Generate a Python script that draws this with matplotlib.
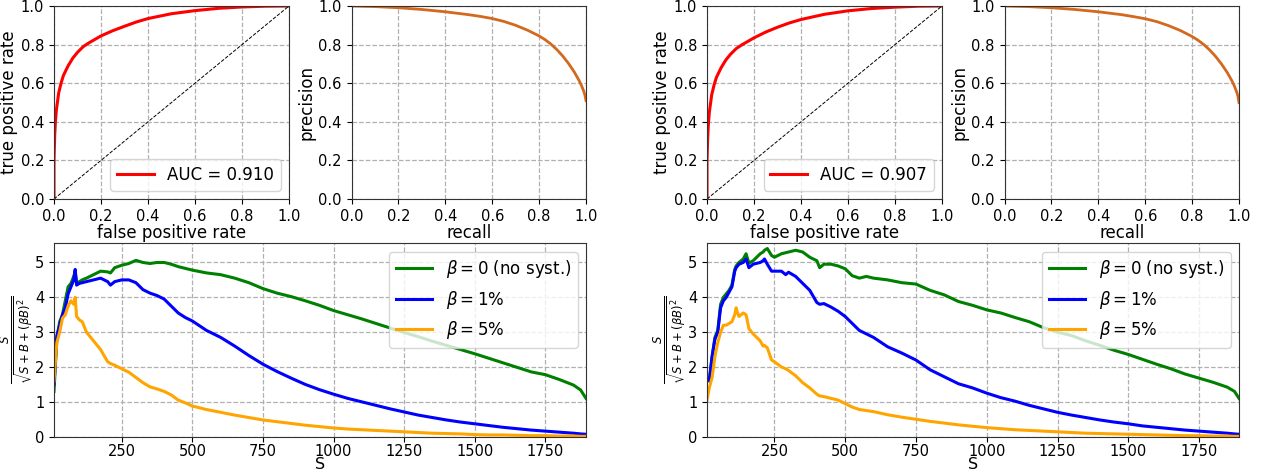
import matplotlib
matplotlib.use("Agg")
import matplotlib.pyplot as plt
import numpy as np

W, H = 1265, 474

# ---- ROC curves ----
ROC_FPR = [0.0, 0.0, 0.003, 0.006, 0.01, 0.02, 0.03, 0.04, 0.06, 0.08, 0.1, 0.125, 0.15, 0.2,
           0.25, 0.3, 0.35, 0.4, 0.5, 0.6, 0.7, 0.8, 0.9, 1.0]
ROC_TPR_A = [0.0, 0.2, 0.33, 0.40, 0.46, 0.55, 0.60, 0.64, 0.69, 0.73, 0.76, 0.79, 0.81, 0.845,
             0.872, 0.895, 0.917, 0.935, 0.96, 0.976, 0.988, 0.995, 0.999, 1.0]
ROC_TPR_B = [0.0, 0.2, 0.32, 0.39, 0.45, 0.54, 0.59, 0.63, 0.68, 0.72, 0.75, 0.78, 0.80, 0.835,
             0.865, 0.89, 0.912, 0.93, 0.957, 0.975, 0.987, 0.994, 0.999, 1.0]
AUC_A = 0.910
AUC_B = 0.907

# ---- precision-recall curves ----
PR_RECALL = [0.0, 0.1, 0.2, 0.3, 0.4, 0.5, 0.55, 0.6, 0.65, 0.7, 0.75, 0.8, 0.825, 0.85, 0.875,
             0.9, 0.925, 0.95, 0.97, 0.98, 0.99, 0.995, 1.0]
PR_PREC_A = [1.0, 0.997, 0.991, 0.982, 0.97, 0.955, 0.946, 0.935, 0.92, 0.90, 0.875, 0.845,
             0.826, 0.803, 0.775, 0.742, 0.703, 0.658, 0.615, 0.59, 0.56, 0.54, 0.51]
PR_PREC_B = [1.0, 0.997, 0.991, 0.982, 0.97, 0.955, 0.945, 0.934, 0.919, 0.898, 0.873, 0.842,
             0.823, 0.80, 0.772, 0.739, 0.70, 0.655, 0.612, 0.586, 0.555, 0.535, 0.50]

# ---- significance vs S, left panel ----
S_A = [10, 20, 30, 40, 50, 60, 70, 80, 85, 90, 100, 110, 125, 150, 175, 200, 210, 225, 250,
       275, 300, 325, 350, 375, 400, 425, 450, 475, 500, 550, 600, 650, 700, 750, 800, 850,
       900, 950, 1000, 1050, 1100, 1150, 1200, 1250, 1300, 1350, 1400, 1450, 1500, 1550,
       1600, 1650, 1700, 1750, 1800, 1850, 1875, 1894]
SIG0_A = [1.3, 2.8, 3.3, 3.5, 3.9, 4.3, 4.4, 4.6, 4.75, 4.4, 4.45, 4.5, 4.55, 4.65, 4.75, 4.73,
          4.7, 4.85, 4.92, 4.97, 5.06, 5.0, 4.97, 5.0, 5.0, 4.95, 4.88, 4.83, 4.78, 4.7, 4.65,
          4.55, 4.42, 4.25, 4.12, 4.02, 3.9, 3.77, 3.62, 3.5, 3.38, 3.25, 3.12, 2.99, 2.87,
          2.74, 2.62, 2.5, 2.38, 2.25, 2.12, 1.99, 1.86, 1.78, 1.64, 1.48, 1.34, 1.1]
SIG1_A = [1.5, 2.9, 3.2, 3.5, 3.7, 4.1, 4.3, 4.5, 4.8, 4.35, 4.4, 4.42, 4.45, 4.5, 4.55, 4.45,
          4.35, 4.45, 4.5, 4.5, 4.42, 4.22, 4.12, 4.05, 3.95, 3.75, 3.55, 3.42, 3.32, 3.05,
          2.85, 2.6, 2.33, 2.08, 1.87, 1.68, 1.5, 1.35, 1.22, 1.1, 1.0, 0.9, 0.8, 0.71, 0.62,
          0.55, 0.48, 0.42, 0.37, 0.32, 0.27, 0.23, 0.19, 0.16, 0.13, 0.1, 0.08, 0.07]
SIG5_A = [1.6, 2.7, 3.0, 3.4, 3.5, 3.75, 3.9, 3.8, 4.0, 3.45, 3.35, 3.3, 3.0, 2.75, 2.5, 2.15,
          2.1, 2.05, 1.95, 1.85, 1.7, 1.55, 1.43, 1.37, 1.3, 1.2, 1.05, 0.97, 0.88, 0.78, 0.7,
          0.62, 0.55, 0.48, 0.43, 0.38, 0.33, 0.29, 0.25, 0.22, 0.2, 0.18, 0.16, 0.14, 0.12,
          0.1, 0.09, 0.08, 0.06, 0.05, 0.05, 0.04, 0.03, 0.03, 0.02, 0.02, 0.01, 0.01]

# ---- significance vs S, right panel ----
S_B = [12, 20, 30, 40, 50, 60, 70, 80, 90, 100, 110, 115, 120, 125, 140, 150, 160, 175, 200,
       210, 215, 225, 240, 250, 275, 290, 300, 325, 350, 375, 400, 410, 425, 450, 475, 500,
       525, 550, 575, 600, 650, 700, 750, 800, 850, 900, 950, 1000, 1050, 1100, 1150, 1200,
       1250, 1300, 1350, 1400, 1450, 1500, 1550, 1600, 1650, 1700, 1750, 1800, 1850, 1875,
       1891]
SIG0_B = [1.65, 1.6, 2.3, 2.85, 3.05, 3.8, 4.0, 4.1, 4.2, 4.35, 4.8, 4.9, 4.95, 5.0, 5.1, 5.25,
          4.98, 5.05, 5.25, 5.3, 5.35, 5.4, 5.2, 5.15, 5.25, 5.28, 5.3, 5.35, 5.3, 5.15, 5.05,
          4.85, 4.95, 4.95, 4.9, 4.82, 4.62, 4.55, 4.6, 4.55, 4.5, 4.42, 4.38, 4.2, 4.07,
          3.88, 3.77, 3.64, 3.55, 3.42, 3.3, 3.13, 3.0, 2.9, 2.75, 2.62, 2.48, 2.36, 2.22,
          2.08, 1.95, 1.8, 1.68, 1.56, 1.42, 1.3, 1.1]
SIG1_B = [1.65, 1.6, 2.3, 2.8, 3.0, 3.7, 3.9, 4.0, 4.15, 4.3, 4.75, 4.85, 4.9, 4.95, 5.0, 5.1,
          4.85, 4.95, 5.0, 5.05, 5.1, 4.95, 4.75, 4.75, 4.75, 4.65, 4.72, 4.6, 4.4, 4.2, 3.85,
          3.8, 3.82, 3.72, 3.6, 3.45, 3.25, 3.05, 2.95, 2.85, 2.58, 2.4, 2.2, 1.92, 1.72,
          1.52, 1.4, 1.25, 1.12, 1.02, 0.9, 0.8, 0.7, 0.62, 0.55, 0.48, 0.42, 0.37, 0.31,
          0.27, 0.23, 0.19, 0.16, 0.13, 0.1, 0.08, 0.07]
SIG5_B = [1.05, 1.4, 1.7, 2.3, 2.7, 3.0, 3.2, 3.2, 3.25, 3.3, 3.5, 3.7, 3.55, 3.45, 3.55, 3.5,
          3.1, 2.95, 2.75, 2.6, 2.62, 2.55, 2.2, 2.15, 2.0, 1.95, 1.9, 1.75, 1.55, 1.4, 1.22,
          1.17, 1.15, 1.1, 1.05, 0.95, 0.85, 0.78, 0.75, 0.72, 0.63, 0.56, 0.5, 0.44, 0.39,
          0.34, 0.3, 0.26, 0.23, 0.2, 0.18, 0.16, 0.14, 0.12, 0.1, 0.09, 0.08, 0.07, 0.06,
          0.05, 0.04, 0.03, 0.03, 0.02, 0.02, 0.01, 0.01]

SIG_LABELS = [r"$\beta = 0$ (no syst.)", r"$\beta = 1\%$", r"$\beta = 5\%$"]
SIG_COLORS = ["green", "blue", "orange"]
S_TICKS = [250, 500, 750, 1000, 1250, 1500, 1750]

TICK_FS = 10.5
LABEL_FS = 12
LEGEND_FS = 12


def px_axes(fig, x0, x1, y0, y1):
    # pixel box (top-left origin) -> figure fraction axes
    return fig.add_axes([x0 / W, (H - y1) / H, (x1 - x0) / W, (y1 - y0) / H])


def style(ax):
    ax.grid(True, linestyle="--", color="#b0b0b0", linewidth=0.9)
    ax.set_axisbelow(True)
    ax.tick_params(labelsize=TICK_FS)
    for sp in ax.spines.values():
        sp.set_color("#333333")


def draw_group(fig, xoff, tpr, auc, prec, s, sigs):
    ax = px_axes(fig, 54 + xoff, 289 + xoff, 6, 199)
    ax.plot(ROC_FPR, tpr, color="red", linewidth=2.2, label=f"AUC = {auc:.3f}")
    ax.plot([0, 1], [0, 1], "k--", linewidth=0.7)
    ax.set_xlim(0, 1)
    ax.set_ylim(0, 1)
    ax.set_xlabel("false positive rate", fontsize=LABEL_FS, labelpad=0)
    ax.set_ylabel("true positive rate", fontsize=LABEL_FS, labelpad=2)
    ax.legend(loc="lower right", fontsize=LEGEND_FS, handlelength=2.2)
    style(ax)

    ax = px_axes(fig, 351.5 + xoff, 586 + xoff, 6, 199)
    ax.plot(PR_RECALL, prec, color="chocolate", linewidth=2.0)
    ax.set_xlim(0, 1)
    ax.set_ylim(0, 1)
    ax.set_xlabel("recall", fontsize=LABEL_FS, labelpad=0)
    ax.set_ylabel("precision", fontsize=LABEL_FS, labelpad=2)
    style(ax)

    ax = px_axes(fig, 54 + xoff, 586 + xoff, 243.3, 436.7)
    for sig, lab, col in zip(sigs, SIG_LABELS, SIG_COLORS):
        ax.plot(s, sig, color=col, linewidth=2.2, label=lab)
    ax.set_xlim(s[0], s[-1])
    ax.set_ylim(0, 5.55)
    ax.set_xticks(S_TICKS)
    ax.set_yticks([0, 1, 2, 3, 4, 5])
    ax.set_ylabel(r"$\frac{S}{\sqrt{S+B+(\beta B)^2}}$", fontsize=LABEL_FS, labelpad=0)
    ax.legend(loc="upper right", fontsize=LEGEND_FS, handlelength=2.2)
    style(ax)
    ax.tick_params(axis="x", pad=1.5)
    ax.set_xlabel("S", fontsize=11.5, labelpad=-1.5)


fig = plt.figure(figsize=(W / 100, H / 100), dpi=100)
draw_group(fig, 0, ROC_TPR_A, AUC_A, PR_PREC_A, S_A, [SIG0_A, SIG1_A, SIG5_A])
draw_group(fig, 653, ROC_TPR_B, AUC_B, PR_PREC_B, S_B, [SIG0_B, SIG1_B, SIG5_B])
fig.savefig("out.png", dpi=100)
